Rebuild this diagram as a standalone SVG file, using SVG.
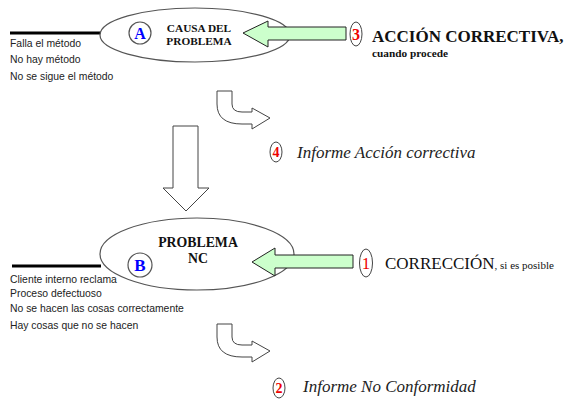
<svg xmlns="http://www.w3.org/2000/svg" width="570" height="399" viewBox="0 0 570 399">
<defs>
<style>
.ell{fill:#fff;stroke:#555;stroke-width:1.2}
.num{fill:#fff;stroke:#444;stroke-width:1}
.nt{font-family:"Liberation Serif",serif;fill:#e00;text-anchor:middle}
.ttl{font-family:"Liberation Serif",serif;font-weight:bold;fill:#111;text-anchor:middle}
.lst{font-family:"Liberation Sans",Arial,sans-serif;font-size:10.4px;fill:#222}
.grn{fill:#ccffcc;stroke:#222;stroke-width:1}
.wht{fill:#fff;stroke:#444;stroke-width:1}
.it{font-family:"Liberation Serif",serif;font-style:italic;font-size:17px;fill:#222}
.lbl{font-family:"Liberation Serif",serif;fill:#111}
.ltr{font-family:"Liberation Serif",serif;font-weight:bold;fill:#00f;text-anchor:middle}
</style>
<path id="bent" d="M217,91 L232,91 L232,104 Q232,112 242,112 L252,112 L252,108 L270,118 L252,129 L252,124 L242,124 Q217,124 217,104 Z"/>
</defs>
<rect width="570" height="399" fill="#fff"/>

<g id="nodeA">
<line x1="10" y1="33" x2="101" y2="33" stroke="#000" stroke-width="3"/>
<ellipse class="ell" cx="195" cy="35" rx="95" ry="27"/>
<circle class="ell" cx="140" cy="33" r="11"/>
<text class="ltr" x="140" y="39" font-size="16">A</text>
<text class="ttl" x="199" y="32" font-size="11.3">CAUSA DEL</text>
<text class="ttl" x="199" y="45" font-size="11.3">PROBLEMA</text>
<text class="lst" x="10" y="47">Falla el método</text>
<text class="lst" x="10" y="63">No hay método</text>
<text class="lst" x="10" y="80">No se sigue el método</text>
</g>

<g id="nodeB">
<line x1="12" y1="266" x2="101" y2="266" stroke="#000" stroke-width="3"/>
<ellipse class="ell" cx="197" cy="254" rx="97" ry="36"/>
<circle class="ell" cx="140" cy="265" r="12"/>
<text class="ltr" x="140" y="271" font-size="17">B</text>
<text class="ttl" x="198" y="247" font-size="13.8">PROBLEMA</text>
<text class="ttl" x="198" y="263" font-size="13.8">NC</text>
<text class="lst" x="10" y="283">Cliente interno reclama</text>
<text class="lst" x="10" y="297">Proceso defectuoso</text>
<text class="lst" x="10" y="312">No se hacen las cosas correctamente</text>
<text class="lst" x="10" y="329">Hay cosas que no se hacen</text>
</g>

<g id="step3">
<ellipse class="num" cx="356" cy="34" rx="6" ry="12"/>
<text class="nt" x="356" y="40" font-size="16" font-weight="bold">3</text>
<text class="lbl" x="372" y="42" font-size="17" font-weight="bold">ACCIÓN CORRECTIVA,</text>
<text class="lbl" x="372" y="57" font-size="11.3" font-weight="bold">cuando procede</text>
</g>

<g id="step4">
<ellipse class="num" cx="276" cy="152" rx="6" ry="10"/>
<text class="nt" x="276" y="157" font-size="14" font-weight="bold">4</text>
<text class="it" x="297" y="158">Informe Acción correctiva</text>
</g>

<g id="step1">
<ellipse class="num" cx="366" cy="263" rx="6.5" ry="14"/>
<text class="nt" x="366" y="269" font-size="17">1</text>
<text class="lbl" x="385" y="269" font-size="17">CORRECCIÓN<tspan font-size="11">, si es posible</tspan></text>
</g>

<g id="step2">
<ellipse class="num" cx="279" cy="388" rx="6" ry="10"/>
<text class="nt" x="279" y="393" font-size="14" font-weight="bold">2</text>
<text class="it" x="303" y="392">Informe No Conformidad</text>
</g>

<g id="connectors">
<path class="grn" d="M243,33 L268,21 L268,27 L346,27 L346,40 L268,40 L268,47 Z"/>
<path class="grn" d="M252,262 L275,248 L275,255 L353,255 L353,268 L275,268 L275,276 Z"/>
<path class="wht" d="M173,126 L198,126 L198,188 L209,188 L186,211 L163,188 L173,188 Z"/>
<use href="#bent" class="wht"/>
<use href="#bent" class="wht" transform="translate(0,233)"/>
</g>
</svg>
